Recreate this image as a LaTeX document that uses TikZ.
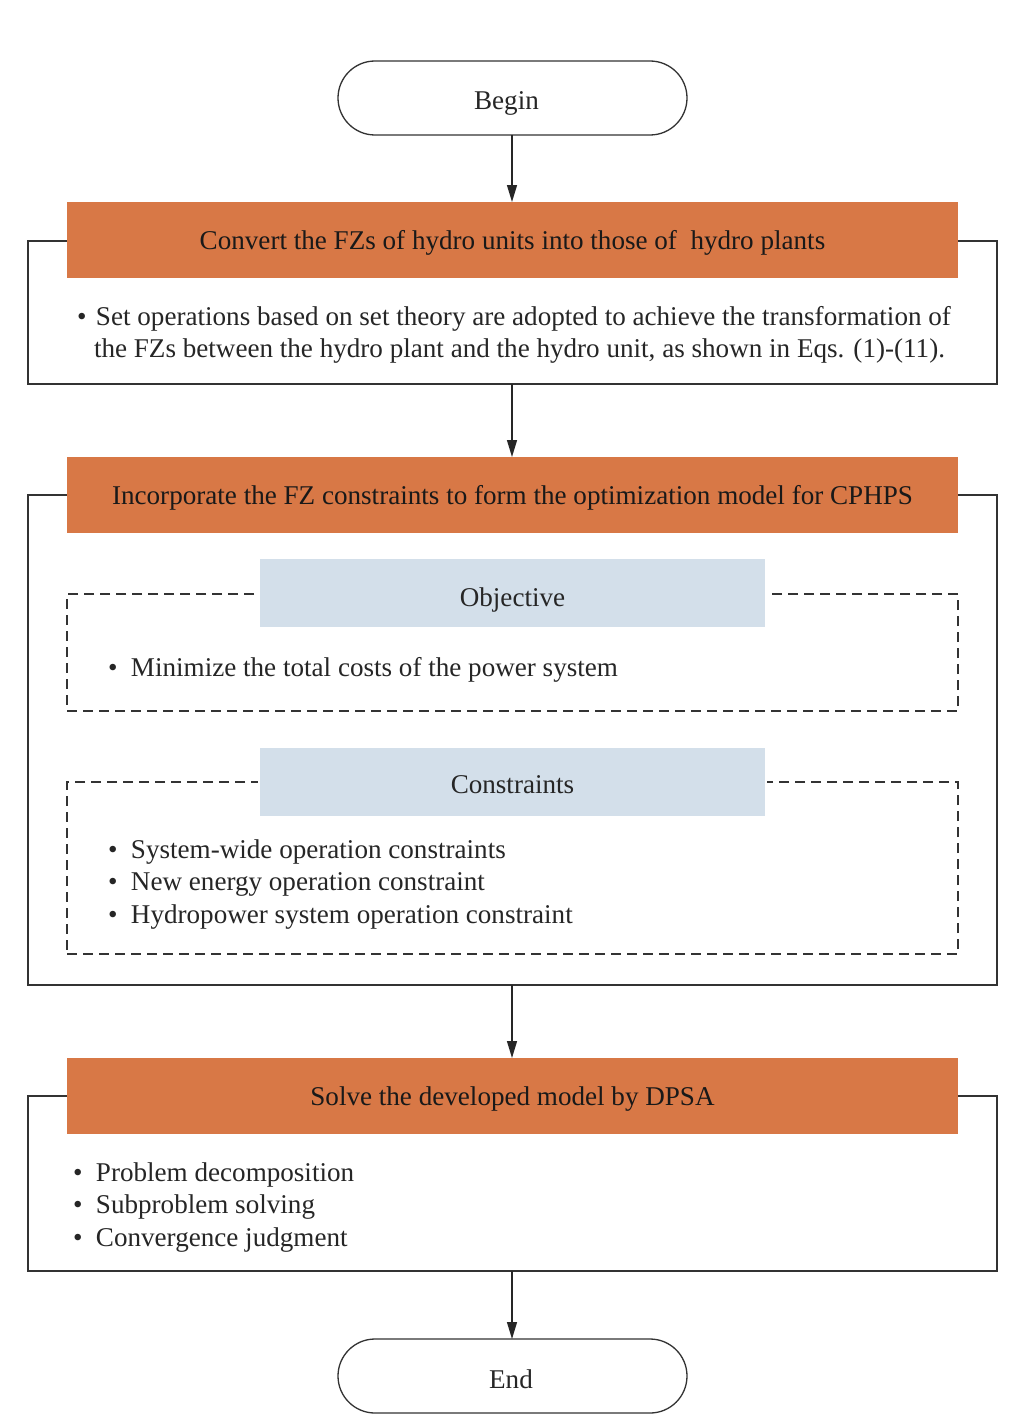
\documentclass[tikz,border=0pt]{standalone}
\usepackage{fontspec}
\setmainfont{Liberation Serif}
\usetikzlibrary{arrows.meta}
\definecolor{orangebox}{HTML}{D87846}
\definecolor{bluebox}{HTML}{D3DFEA}
\definecolor{linegray}{HTML}{333333}
\begin{document}
\begin{tikzpicture}[x=1pt,y=-1pt,
  every node/.style={font=\fontsize{27.1}{32.5}\selectfont, inner sep=0pt, outer sep=0pt},
  term/.style={draw=linegray, line width=1.3pt, rounded corners=37pt, minimum width=349pt, minimum height=74pt, fill=white, text=black!85, text height=24pt, text depth=0pt},
  headbox/.style={fill=orangebox, minimum width=891pt, minimum height=76pt, text=black!90, text height=18pt, text depth=0pt},
  outerbox/.style={draw=linegray, line width=1.3pt, fill=white},
  subhead/.style={fill=bluebox, draw=white, line width=1.5pt, minimum width=507pt, minimum height=70pt, text=black!85, text depth=0pt},
  dashbox/.style={draw=linegray, line width=1.3pt, dash pattern=on 10pt off 6pt},
  txt/.style={anchor=base west, text=black!85},
  flow/.style={draw=black!85, line width=1.3pt, -{Triangle[length=17pt,width=10pt]}}
]
\useasboundingbox (0,0) rectangle (1033,1426);

% Begin
\node[term] (begin) at (512.5,98) {\hspace*{-12pt}Begin};

% Block 1
\node[outerbox, minimum width=969pt, minimum height=143pt] (outer1) at (512.5,312.5) {};
\node[headbox] (head1) at (512.5,240) {Convert the FZs of hydro units into those of~ hydro plants};
\node[txt] (b1a) at (77,325) {\makebox[19pt][l]{•}Set operations based on set theory are adopted to achieve the transformation of};
\node[txt] (b1b) at (94,357.5) {the FZs between the hydro plant and the hydro unit, as shown in Eqs. (1)-(11).};

% Block 2
\node[outerbox, minimum width=969pt, minimum height=490pt] (outer2) at (512.5,740) {};
\node[headbox] (head2) at (512.5,495) {Incorporate the FZ constraints to form the optimization model for CPHPS};

\node[dashbox, minimum width=891pt, minimum height=117pt] (dash1) at (512.5,652.5) {};
\node[subhead, text height=27pt] (obj) at (512.5,593) {Objective};
\node[txt] (o1) at (108,676) {\makebox[23pt][l]{•}Minimize the total costs of the power system};

\node[dashbox, minimum width=891pt, minimum height=172pt] (dash2) at (512.5,868) {};
\node[subhead, text height=23pt] (con) at (512.5,782) {Constraints};
\node[txt] (c1) at (108,858) {\makebox[23pt][l]{•}System-wide operation constraints};
\node[txt] (c2) at (108,890.5) {\makebox[23pt][l]{•}New energy operation constraint};
\node[txt] (c3) at (108,923) {\makebox[23pt][l]{•}Hydropower system operation constraint};

% Block 3
\node[outerbox, minimum width=969pt, minimum height=175pt] (outer3) at (512.5,1183.5) {};
\node[headbox] (head3) at (512.5,1096) {Solve the developed model by DPSA};
\node[txt] (s1) at (73,1181) {\makebox[23pt][l]{•}Problem decomposition};
\node[txt] (s2) at (73,1213.5) {\makebox[23pt][l]{•}Subproblem solving};
\node[txt] (s3) at (73,1246) {\makebox[23pt][l]{•}Convergence judgment};

% End
\node[term] (end) at (512.5,1376) {\hspace*{-3pt}End};

% Connectors
\draw[flow] (begin.south -| 512,0) -- (head1.north -| 512,0);
\draw[flow] (outer1.south -| 512,0) -- (head2.north -| 512,0);
\draw[flow] (outer2.south -| 512,0) -- (head3.north -| 512,0);
\draw[flow] (outer3.south -| 512,0) -- (end.north -| 512,0);
\end{tikzpicture}
\end{document}
